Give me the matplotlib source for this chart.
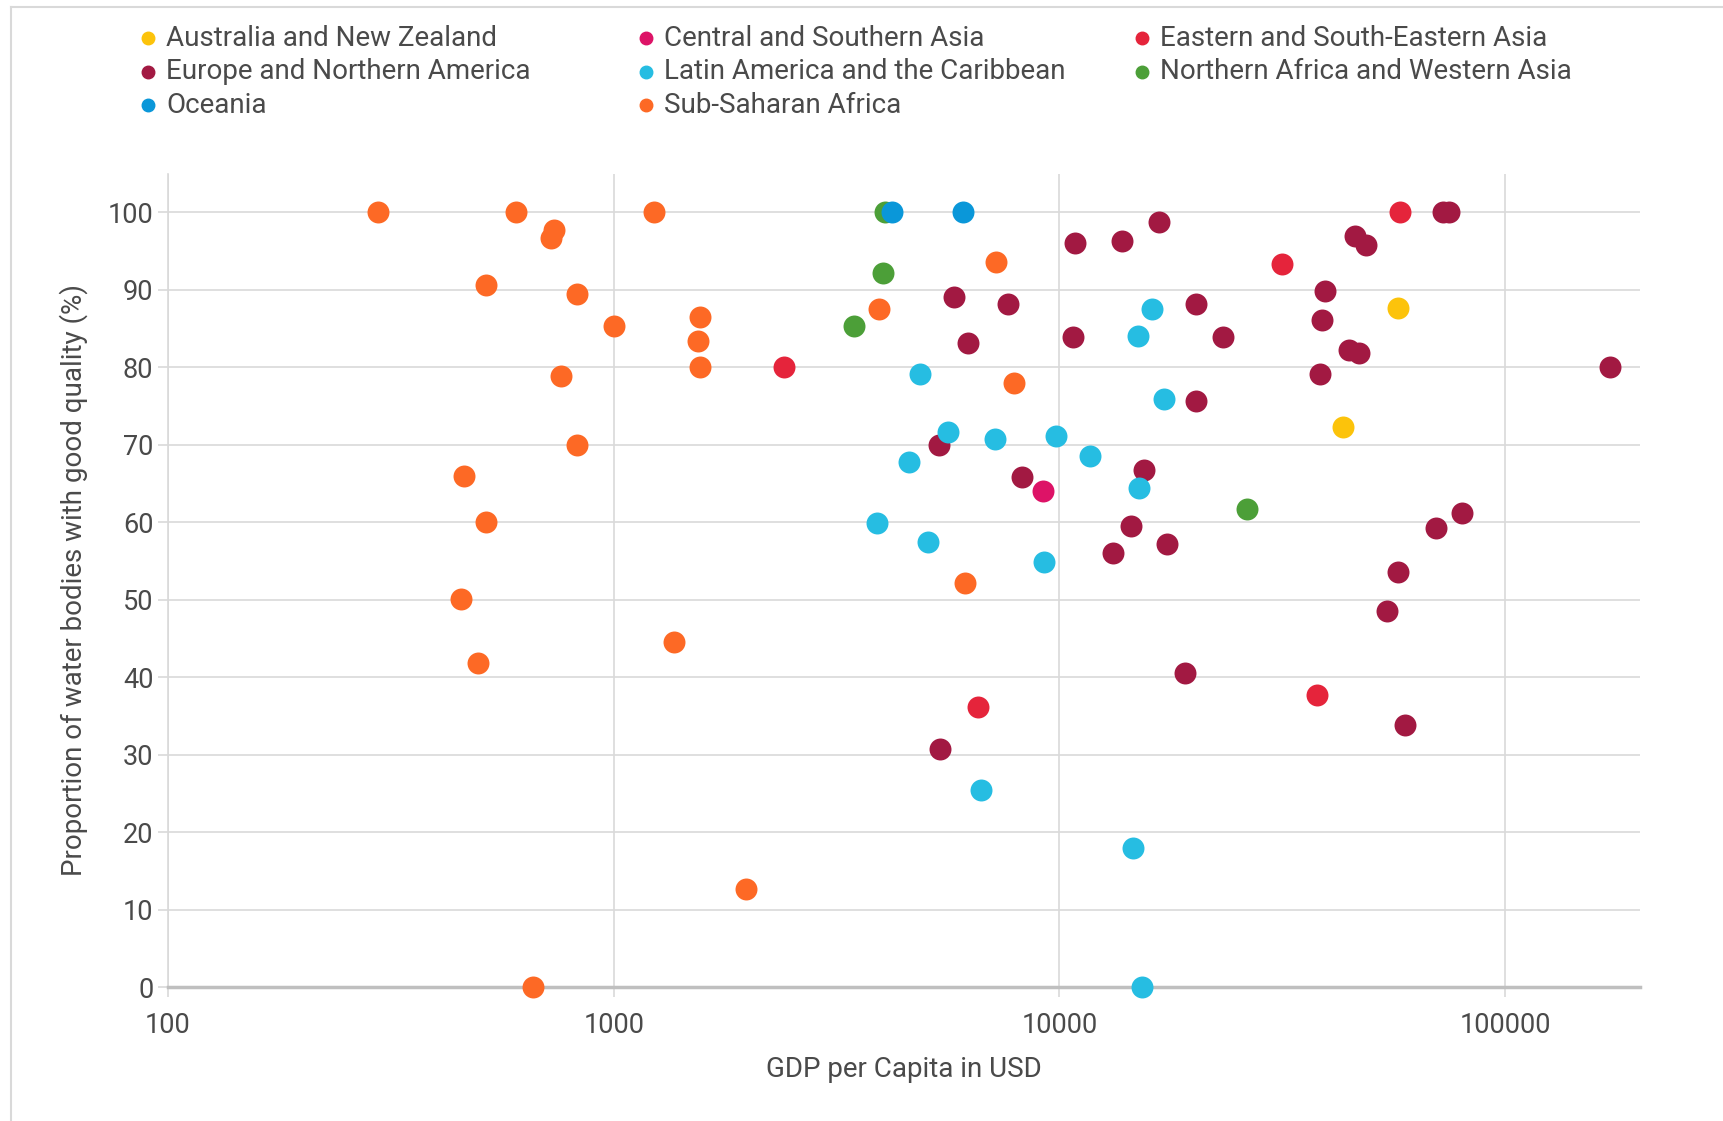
import matplotlib.pyplot as plt
from matplotlib.lines import Line2D

plt.rcParams['font.family'] = ['Roboto', 'DejaVu Sans']

# regions in legend order, with their colours
regions = [
    "Australia and New Zealand",
    "Central and Southern Asia",
    "Eastern and South-Eastern Asia",
    "Europe and Northern America",
    "Latin America and the Caribbean",
    "Northern Africa and Western Asia",
    "Oceania",
    "Sub-Saharan Africa",
]
colors = ["#FCC30B", "#DD1367", "#E5243B", "#A21942",
          "#26BDE2", "#4C9F38", "#0A97D9", "#FD6925"]

# GDP per capita (USD) and proportion of good-quality water bodies (%)
aus_gdp = [57400, 43300]
aus_val = [87.7, 72.3]

csa_gdp = [9190]
csa_val = [64.0]

esea_gdp = [2405, 6580, 31560, 58200, 37850]
esea_val = [80.0, 36.1, 93.3, 100, 37.7]

eur_gdp = [16720, 10810, 13800, 5800, 7680, 6220, 10710, 20230, 23220, 20230,
           5370, 8245, 15450, 14490, 17460, 13220, 19150, 5400, 72400, 75000,
           46000, 48700, 39500, 38840, 44600, 47100, 38500, 171700, 80100,
           70000, 57400, 54300, 59600]
eur_val = [98.8, 96.1, 96.3, 89.1, 88.2, 83.2, 83.9, 88.2, 83.9, 75.7,
           70.0, 65.8, 66.7, 59.5, 57.2, 56.1, 40.6, 30.7, 100, 100,
           97.0, 95.8, 89.9, 86.1, 82.2, 81.8, 79.1, 80.0, 61.2,
           59.3, 53.6, 48.5, 33.8]

lac_gdp = [3890, 4870, 5620, 7180, 9800, 4590, 11720, 15100, 5060, 9250,
           6680, 14590, 15310, 16110, 15000, 17180]
lac_val = [59.9, 79.1, 71.7, 70.8, 71.2, 67.8, 68.5, 64.4, 57.4, 54.9,
           25.5, 18.0, 0, 87.5, 84.1, 75.9]

nawa_gdp = [4055, 4020, 3460, 26370]
nawa_val = [100, 92.2, 85.3, 61.7]

oce_gdp = [4200, 6070]
oce_val = [100, 100]

ssa_gdp = [296, 603, 1233, 736, 722, 516, 827, 1003, 1560, 1545, 1560, 761,
           827, 462, 516, 454, 497, 1364, 1977, 660, 3930, 7200, 7900, 6140]
ssa_val = [100, 100, 100, 97.7, 96.7, 90.6, 89.5, 85.4, 86.5, 83.4, 80.0, 78.9,
           70.0, 66.0, 60.1, 50.1, 41.8, 44.5, 12.6, 0, 87.5, 93.6, 78.0, 52.2]

xs = [aus_gdp, csa_gdp, esea_gdp, eur_gdp, lac_gdp, nawa_gdp, oce_gdp, ssa_gdp]
ys = [aus_val, csa_val, esea_val, eur_val, lac_val, nawa_val, oce_val, ssa_val]

text_c = "#4a4a4a"
grid_c = "#d9d9d9"

fig = plt.figure(figsize=(17.23, 11.21), dpi=100)
ax = fig.add_axes([0.0975, 0.1195, 0.8545, 0.7255])

for x, y, c in zip(xs, ys, colors):
    ax.scatter(x, y, s=250, color=c, linewidths=0, zorder=3, clip_on=False)

ax.set_xscale("log")
ax.set_xlim(100, 201000)
ax.set_ylim(0, 105)
ax.set_xticks([100, 1000, 10000, 100000])
ax.set_xticklabels(["100", "1000", "10000", "100000"])
ax.minorticks_off()
ax.set_yticks(range(0, 101, 10))

ax.grid(True, color=grid_c, linewidth=1.2, zorder=0)
ax.set_axisbelow(True)
for s in ["top", "right"]:
    ax.spines[s].set_visible(False)
ax.spines["left"].set_color(grid_c)
ax.spines["left"].set_linewidth(1.2)
ax.spines["bottom"].set_color("#bfbfbf")
ax.spines["bottom"].set_linewidth(2.5)
ax.tick_params(axis="both", colors=grid_c, labelcolor=text_c,
               labelsize=19.5, length=7, width=1.2)
ax.tick_params(axis="x", pad=11)

ax.set_xlabel("GDP per Capita in USD", fontsize=20, color=text_c, labelpad=12)
ax.set_ylabel("Proportion of water bodies with good quality (%)",
              fontsize=20, color=text_c, labelpad=14)

# legend laid out row by row, three columns
col_x = [0.086, 0.375, 0.663]
row_y = [0.966, 0.936, 0.906]
for i, (name, c) in enumerate(zip(regions, colors)):
    cx = col_x[i % 3]
    cy = row_y[i // 3]
    fig.add_artist(Line2D([cx], [cy], marker="o", markersize=9, color=c,
                          linestyle="none", transform=fig.transFigure))
    fig.text(cx + 0.0105, cy, name, fontsize=20, color=text_c,
             va="center", ha="left")

# thin frame on the left and top
fig.add_artist(Line2D([0.0064, 0.0064], [0.0, 0.994], color=grid_c,
                      linewidth=1.5, transform=fig.transFigure))
fig.add_artist(Line2D([0.0064, 1.0], [0.994, 0.994], color=grid_c,
                      linewidth=1.5, transform=fig.transFigure))

fig.savefig("out.png", dpi=100)
